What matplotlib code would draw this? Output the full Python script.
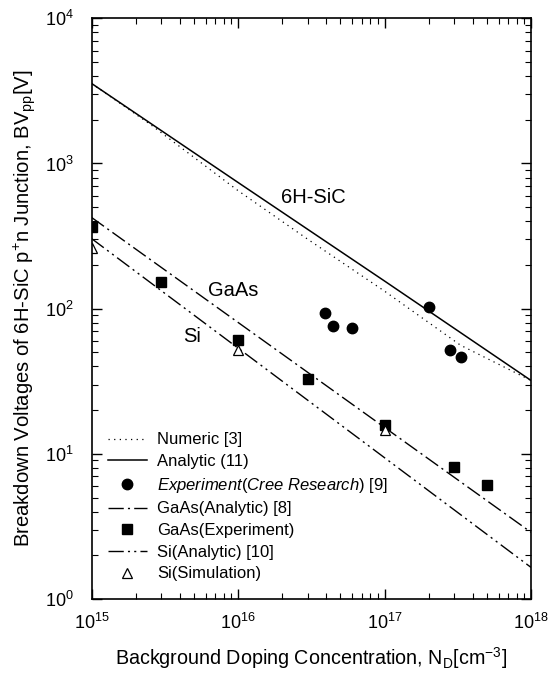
import matplotlib
matplotlib.use("Agg")
import matplotlib.pyplot as plt
import numpy as np

plt.rcParams['font.family'] = ['Liberation Sans', 'DejaVu Sans']
plt.rcParams['mathtext.fontset'] = 'custom'
plt.rcParams['mathtext.rm'] = 'Liberation Sans'
plt.rcParams['mathtext.it'] = 'Liberation Sans:italic'
plt.rcParams['mathtext.bf'] = 'Liberation Sans:bold'

# 6H-SiC curves
numeric_N = [1e15, 2.5e15, 1e16, 3e16, 1e17, 3.3e17, 1e18]
numeric_BV = [3560, 1870, 650, 300, 132, 56, 32]
analytic_N = [1e15, 1e16, 1e17, 1e18]
analytic_BV = [3560, 740, 155, 32]

# Cree Research experiment
cree_N = [3.95e16, 4.43e16, 6.0e16, 2.0e17, 2.78e17, 3.32e17]
cree_BV = [94, 75.5, 73, 102, 52, 46.5]

# GaAs
gaas_an_N = [1e15, 1e16, 1e17, 1e18]
gaas_an_BV = [425, 80.4, 15.2, 2.88]
gaas_exp_N = [1e15, 3e15, 1e16, 3e16, 1e17, 3e17, 5e17]
gaas_exp_BV = [365, 152, 61, 32.5, 15.8, 8.1, 6.1]

# Si
si_an_N = [1e15, 1e16, 1e17, 1e18]
si_an_BV = [304, 53.5, 9.4, 1.65]
si_sim_N = [1e15, 1e16, 1e17]
si_sim_BV = [260, 52, 14.5]

fig = plt.figure(figsize=(5.5, 6.73), dpi=100)
ax = fig.add_axes([0.1664, 0.110, 0.7991, 0.8628])

ax.plot(numeric_N, numeric_BV, color='black', lw=0.9, ls=(0, (1, 3.5)), label='Numeric [3]')
ax.plot(analytic_N, analytic_BV, color='black', lw=1.1, ls='-', label='Analytic (11)')
ax.plot(cree_N, cree_BV, 'o', color='black', ms=7.5,
        label=r'$\mathit{Experiment}$(' + r'$\mathit{Cree\ Research}$) [9]')
ax.plot(gaas_an_N, gaas_an_BV, color='black', lw=1.0, ls=(0, (11, 3, 1.5, 3)),
        label='GaAs(Analytic) [8]')
ax.plot(gaas_exp_N, gaas_exp_BV, 's', color='black', ms=6.5, label='GaAs(Experiment)')
ax.plot(si_an_N, si_an_BV, color='black', lw=1.0, ls=(0, (11, 3, 1.5, 3, 1.5, 3)),
        label='Si(Analytic) [10]')
ax.plot(si_sim_N, si_sim_BV, '^', color='black', mfc='white', mew=0.9, ms=7,
        label='Si(Simulation)')

ax.set_xscale('log')
ax.set_yscale('log')
ax.set_xlim(1e15, 1e18)
ax.set_ylim(1e0, 1e4)

ax.text(3.27e16, 586, '6H-SiC', fontsize=14.5, ha='center', va='center')
ax.text(9.3e15, 134, 'GaAs', fontsize=14.5, ha='center', va='center')
ax.text(4.87e15, 64, 'Si', fontsize=14.5, ha='center', va='center')

ax.set_xlabel(r'Background Doping Concentration, N$_\mathrm{D}$[cm$^{-3}$]', fontsize=14.2, labelpad=9)
ax.set_ylabel(r'Breakdown Voltages of 6H-SiC p$^{+}$n Junction, BV$_\mathrm{pp}$[V]',
              fontsize=14.6, labelpad=5)

ax.tick_params(which='both', direction='in', top=True, right=True, labelsize=13)
ax.tick_params(which='major', length=7, width=1.0)
ax.tick_params(axis='y', which='major', pad=13)
ax.tick_params(axis='x', which='major', pad=10)
ax.tick_params(which='minor', length=4, width=0.8)
for sp in ax.spines.values():
    sp.set_linewidth(1.2)

ax.legend(loc='lower left', bbox_to_anchor=(0.014, 0.013), frameon=False, fontsize=12,
          handlelength=2.35, handletextpad=0.6, labelspacing=0.4, borderaxespad=0.2)

fig.savefig('out.png', dpi=100)
